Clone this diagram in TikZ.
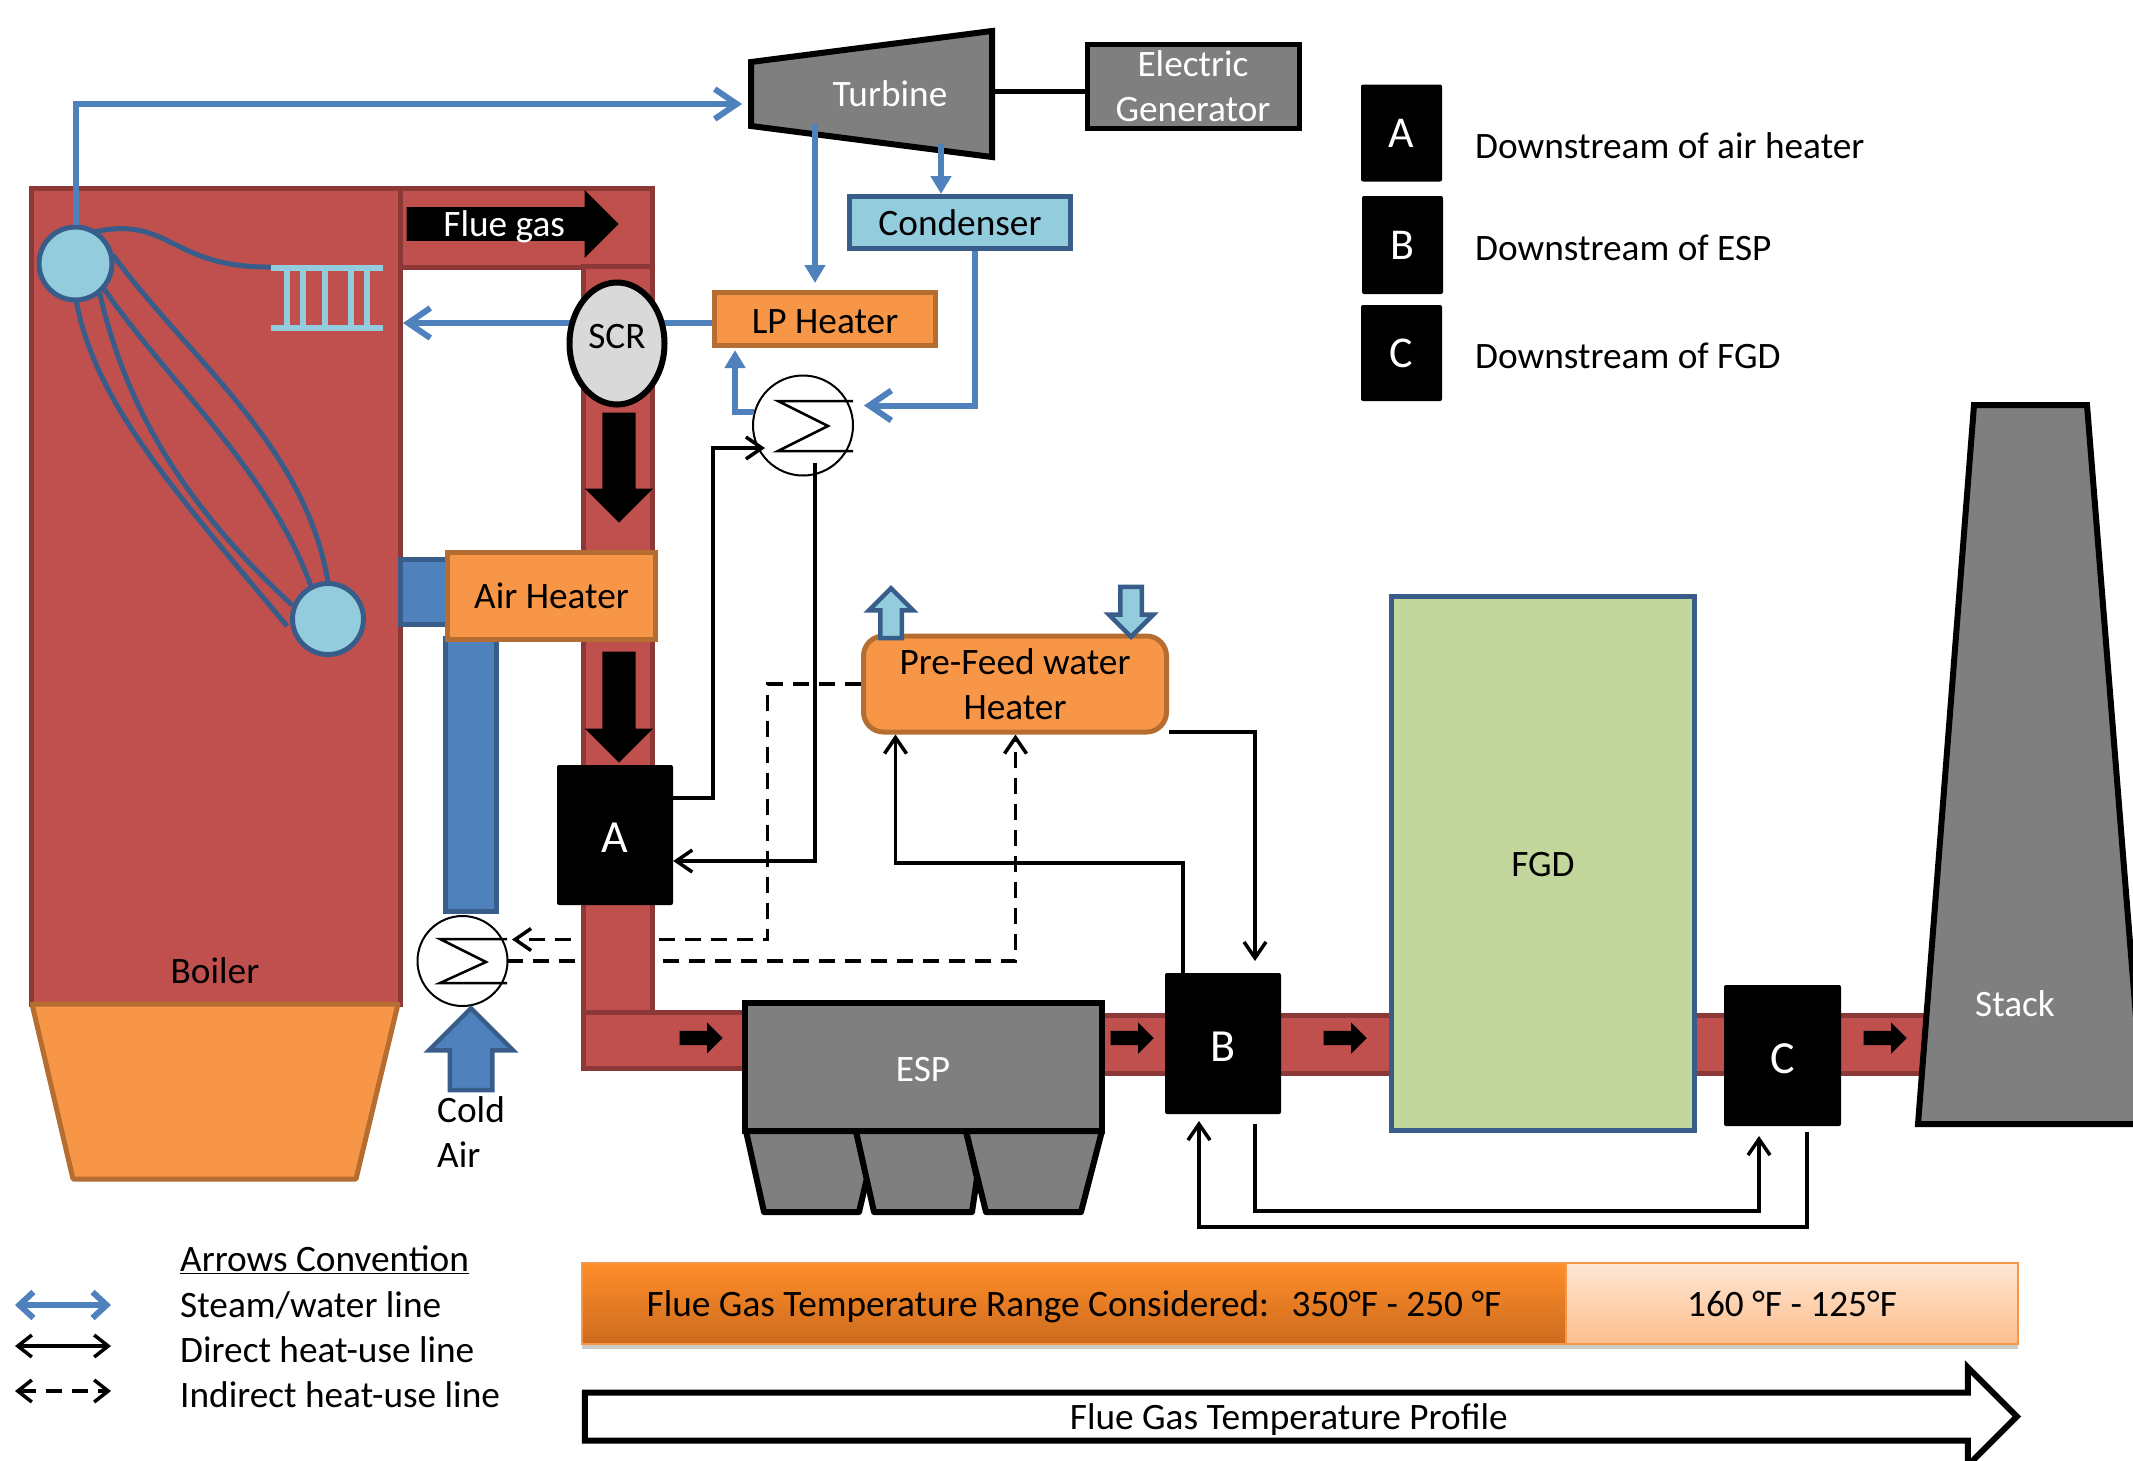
\documentclass[tikz,border=0pt]{standalone}
\usepackage{fontspec}
\setmainfont{Carlito}
\usepackage{xcolor}
\usepackage{tikz}
\usetikzlibrary{positioning,arrows.meta,shapes.arrows,shapes.geometric,shadows,backgrounds}
\definecolor{ductred}{HTML}{C0504D}
\definecolor{ductedge}{HTML}{8C3836}
\definecolor{heatorange}{HTML}{F79646}
\definecolor{heatedge}{HTML}{B66D31}
\definecolor{waterblue}{HTML}{93CDDD}
\definecolor{pipeblue}{HTML}{4F81BD}
\definecolor{pipeedge}{HTML}{385D8A}
\definecolor{plantgrey}{HTML}{7F7F7F}
\definecolor{fgdgreen}{HTML}{C3D69B}
\definecolor{hottop}{HTML}{FF8E2A}
\definecolor{hotbottom}{HTML}{CC6B1E}
\definecolor{coldtop}{HTML}{FEE6D3}
\definecolor{coldbottom}{HTML}{FDBE8D}
\begin{document}
\begin{tikzpicture}[
    x=1pt, y=-1pt,
    font=\fontsize{37.3}{45}\selectfont,
    ductbox/.style={draw=ductedge, line width=5pt, fill=ductred, minimum width=#1},
    heatbox/.style={draw=heatedge, line width=5pt, fill=heatorange, align=center, inner sep=0pt},
    waterbox/.style={draw=pipeedge, line width=5pt, fill=waterblue, inner sep=0pt},
    airbox/.style={draw=pipeedge, line width=5pt, fill=pipeblue, inner sep=0pt},
    greybox/.style={draw=black, line width=6pt, fill=plantgrey, text=white, align=center, inner sep=0pt},
    blockbox/.style={fill=black, text=white, rounded corners=2pt, inner sep=0pt, text height=35pt, text depth=0pt, font=\fontsize{46}{50}\selectfont},
    keybox/.style={blockbox, minimum width=81pt, text height=29pt, font=\fontsize{44}{50}\selectfont},
    keylabel/.style={anchor=west, inner sep=0pt},
    hxcircle/.style={circle, draw=black, line width=2pt, fill=white, inner sep=0pt},
    hxcoil/.style={draw=black, line width=2.5pt},
    tube/.style={draw=pipeedge, line width=5pt},
    rack/.style={draw=waterblue, line width=6pt},
    flowarrow/.style={single arrow, fill=black, anchor=tip, inner xsep=0pt, single arrow head indent=0pt},
    waterarrow/.style={single arrow, draw=pipeedge, line width=4.5pt, fill=waterblue, anchor=tip, inner xsep=0pt, single arrow head indent=0pt},
    steamline/.style={draw=pipeblue, line width=6pt, -{Straight Barb[length=22pt,width=30pt]}},
    steamfeed/.style={draw=pipeblue, line width=6pt, -{Triangle[length=18pt,width=20pt]}},
    directline/.style={draw=black, line width=3.5pt, -{Straight Barb[length=16pt,width=22pt]}},
    indirectline/.style={draw=black, line width=3.5pt, dash pattern=on 16pt off 10pt, -{Straight Barb[length=16pt,width=22pt]}}
  ]
    \useasboundingbox (0,0) rectangle (2133,1460);

    \node[ductbox=369pt, minimum height=816pt] (boiler) at (215.5,596) {};
    \node[ductbox=252pt, minimum height=79pt] (topduct) at (526,227.5) {};
    \node[ductbox=69pt, minimum height=747pt] (riser) at (617.5,639.5) {};
    \node[ductbox=161pt, minimum height=56pt] (lowduct) at (663.5,1040) {};
    \node[ductbox=293pt, minimum height=58pt] (espduct) at (1246.5,1044) {};
    \node[ductbox=237pt, minimum height=58pt] (stackduct) at (1811.5,1044) {};

    \draw[draw=heatedge, line width=5pt, fill=heatorange, line join=round] (32,1004) -- (398,1004) -- (356,1179) -- (73,1179) -- cycle;
    \node (boilerlabel) at (215,971) {Boiler};

    \draw[tube] (113,255) .. controls (190,360) and (305,445) .. (328,582);
    \draw[tube] (102,286) .. controls (170,385) and (270,470) .. (312,589);
    \draw[tube] (99,290) .. controls (130,430) and (206,525) .. (292,605);
    \draw[tube] (76,300) .. controls (95,400) and (165,480) .. (287,626);
    \draw[tube] (94,232) .. controls (170,215) and (170,268) .. (271,267);
    \draw[rack] (271,267.5) -- (383,267.5);
    \draw[rack] (271,327.5) -- (383,327.5);
    \draw[rack] (287,267) -- (287,328);
    \draw[rack] (303,267) -- (303,328);
    \draw[rack] (325,267) -- (325,328);
    \draw[rack] (351,267) -- (351,328);
    \draw[rack] (367,267) -- (367,328);

    \node[circle, draw=pipeedge, line width=5pt, fill=waterblue, minimum size=73pt, inner sep=0pt] (topdrum) at (75.5,263.5) {};
    \node[circle, draw=pipeedge, line width=5pt, fill=waterblue, minimum size=71pt, inner sep=0pt] (lowdrum) at (328,619) {};

    \draw[draw=black, line width=6pt, fill=plantgrey, line join=miter] (751,62) -- (992,31) -- (992,157) -- (751,126) -- cycle;
    \node[text=white] (turbine) at (890,94) {Turbine};
    \coordinate (turbinein) at (742,104);
    \coordinate (turbinelp) at (815,124);
    \coordinate (turbinecond) at (941,144);
    \coordinate (turbineshaft) at (992,91);
    \node[greybox, line width=5pt, minimum width=212pt, minimum height=84pt] (generator) at (1193,86) {Electric\\Generator};
    \draw[black, line width=5pt] (turbineshaft) -- (generator.west |- turbineshaft);

    \draw[steamline] (topdrum.north) |- (turbinein);

    \node[waterbox, minimum width=221pt, minimum height=52pt] (condenser) at (960,222.5) {Condenser};
    \draw[steamfeed] (turbinecond) -- (condenser.north -| turbinecond);

    \node[heatbox, minimum width=221.5pt, minimum height=53pt, text height=28pt, text depth=0pt] (lpheater) at (825,319) {LP Heater};
    \draw[steamfeed, shorten >=7pt] (turbinelp) -- (lpheater.north -| turbinelp);
    \coordinate (boilerwall) at (403,323);
    \draw[steamline] (lpheater.west |- boilerwall) -- (boilerwall);

    \node[ellipse, draw=black, line width=6pt, fill=black!15, inner sep=0pt, minimum width=95pt, minimum height=122pt] (scr) at (617,343.5) {};
    \node (scrlabel) at (617,337) {SCR};

    \node[flowarrow, inner ysep=0pt, text height=24pt, text depth=9.5pt, minimum height=212pt, minimum width=68pt, single arrow head extend=17.25pt, text=white] (fluegas) at (619,224) {\raisebox{-5.5pt}{Flue gas}};
    \node[flowarrow, rotate=-90, inner ysep=16.5pt, minimum height=110pt, minimum width=68pt, single arrow head extend=17.5pt] (scrarrow) at (619,523) {};
    \node[flowarrow, rotate=-90, inner ysep=16.5pt, minimum height=111pt, minimum width=68pt, single arrow head extend=17.5pt] (ahearrow) at (619,763) {};

    \node[airbox, minimum width=49pt, minimum height=65pt] (airstub) at (425,591.5) {};
    \node[airbox, minimum width=51pt, minimum height=273pt] (aircolumn) at (471,774.5) {};
    \node[heatbox, minimum width=208pt, minimum height=87pt] (airheater) at (551.5,595.5) {Air Heater};

    \node[hxcircle, minimum size=100pt] (hxup) at (803,425.5) {};
    \draw[hxcoil] (853,401) -- (778,401) -- (828,426) -- (778,451) -- (853,451);
    \node[hxcircle, minimum size=90pt] (hxlow) at (462.5,961) {};
    \draw[hxcoil] (507,939) -- (440,939) -- (486,962) -- (440,983) -- (507,983);

    \node[single arrow, draw=pipeedge, line width=4.5pt, fill=pipeblue, anchor=tip, inner xsep=0pt, inner ysep=19pt, single arrow head indent=0pt, rotate=90, minimum height=82pt, minimum width=80pt, single arrow head extend=21pt] (coldarrow) at (471,1005) {};
    \node[anchor=west, inner sep=0pt, align=left] (coldair) at (437,1132) {Cold\\Air};

    \node[blockbox, minimum width=116pt, minimum height=140pt] (blockA) at (615,835) {A};
    \node[blockbox, minimum width=116pt, minimum height=141pt] (blockB) at (1223,1043.5) {B};
    \node[blockbox, minimum width=117pt, minimum height=141pt] (blockC) at (1782.5,1055.5) {C};

    \node[greybox, text height=28pt, text depth=0pt, minimum width=357pt, minimum height=128pt] (esp) at (923,1067) {ESP};
    \draw[draw=black, line width=6pt, fill=plantgrey, line join=round] (746,1131) -- (764,1212) -- (859,1212) -- (867,1178) -- (856,1131) -- cycle;
    \draw[draw=black, line width=6pt, fill=plantgrey, line join=round] (856,1131) -- (874,1212) -- (972,1212) -- (977,1178) -- (966,1131) -- cycle;
    \draw[draw=black, line width=6pt, fill=plantgrey, line join=round] (966,1131) -- (986,1212) -- (1081,1212) -- (1102,1131) -- cycle;

    \node[draw=pipeedge, line width=5pt, fill=fgdgreen, text height=26pt, text depth=0pt, minimum width=303pt, minimum height=534pt, inner sep=0pt] (fgd) at (1543,863.5) {FGD};
    \draw[draw=black, line width=6pt, fill=plantgrey, line join=miter] (1974,405) -- (2087,405) -- (2137,1030) -- (2137,1124) -- (1918,1124) -- cycle;
    \node[text=white] (stack) at (2015,1004) {Stack};

    \node[flowarrow, inner ysep=7pt, minimum height=43pt, minimum width=31pt, single arrow head extend=8.5pt] (flowa) at (723,1038) {};
    \node[flowarrow, inner ysep=7pt, minimum height=43pt, minimum width=31pt, single arrow head extend=8.5pt] (flowb) at (1154,1038) {};
    \node[flowarrow, inner ysep=7pt, minimum height=43pt, minimum width=31pt, single arrow head extend=8.5pt] (flowc) at (1367,1038) {};
    \node[flowarrow, inner ysep=7pt, minimum height=43pt, minimum width=31pt, single arrow head extend=8.5pt] (flowd) at (1907,1038) {};

    \node[heatbox, rounded corners=20pt, minimum width=303pt, minimum height=96pt] (prefeed) at (1015,684) {Pre-Feed water\\Heater};
    \node[waterarrow, rotate=90, inner ysep=8.5pt, minimum height=50pt, minimum width=40pt, single arrow head extend=11.5pt] (feedout) at (891,585) {};
    \node[waterarrow, rotate=-90, inner ysep=8.5pt, minimum height=50pt, minimum width=40pt, single arrow head extend=11.5pt] (feedin) at (1131,640) {};

    \coordinate (condensercorner) at (974.5,405.5);
    \coordinate (hxupright) at (864,405.5);
    \coordinate (hxupfeed) at (754,412);
    \draw[steamline] (condenser.south -| condensercorner) -- (condensercorner) -- (hxupright);
    \draw[steamfeed, shorten >=2pt] (hxupfeed) -| ([xshift=-90pt]lpheater.south);

    \coordinate (hxupin) at (765,448);
    \coordinate (hxupdrop) at (815,463);
    \draw[directline] ([yshift=37pt]blockA.east) -- (713,798) |- (hxupin);
    \draw[directline] (hxupdrop) |- ([yshift=-26pt]blockA.east);
    \draw[directline] ([xshift=-40pt]blockB.north) |- (895.5,863) -- ([xshift=-119.5pt]prefeed.south);
    \draw[directline] ([yshift=-48pt]prefeed.east) -| (1255,961);
    \coordinate (blockBout) at (1255,1124);
    \coordinate (blockCin) at (1759,1136);
    \coordinate (blockCout) at (1807,1132);
    \coordinate (blockBin) at (1199,1121);
    \draw[directline] (blockBout) -- (1255,1211) -| (blockCin);
    \draw[directline] (blockCout) -- (1807,1227) -| (blockBin);

    \begin{scope}[on background layer]
      \draw[indirectline] (prefeed.west) -| (767.5,939.5) -- (512,939.5);
      \draw[indirectline] (507,961) -| ([xshift=0.5pt]prefeed.south);
    \end{scope}

    \node[keybox, minimum height=97pt] (keyA) at (1401.5,133) {A};
    \node[keybox, minimum height=98pt] (keyB) at (1402.5,245) {B};
    \node[keybox, minimum height=96pt] (keyC) at (1401.5,353) {C};
    \node[keylabel] (keyAtext) at (1475,146) {Downstream of air heater};
    \node[keylabel] (keyBtext) at (1475,248) {Downstream of ESP};
    \node[keylabel] (keyCtext) at (1475,356) {Downstream of FGD};

    \node[keylabel] (arrowsTitle) at (180,1260) {\underline{Arrows Convention}};
    \node[keylabel] (steamText) at (180,1305) {Steam/water line};
    \node[keylabel] (directText) at (180,1350) {Direct heat-use line};
    \node[keylabel] (indirectText) at (180,1395) {Indirect heat-use line};
    \coordinate (steamkeyl) at (15,1305);
    \coordinate (steamkeyr) at (111,1305);
    \coordinate (directkeyl) at (15,1346);
    \coordinate (directkeyr) at (111,1346);
    \coordinate (indirectkeyl) at (15,1391);
    \coordinate (indirectkeyr) at (111,1391);
    \draw[draw=pipeblue, line width=6pt, {Straight Barb[length=14pt,width=26pt]}-{Straight Barb[length=14pt,width=26pt]}] (steamkeyl) -- (steamkeyr);
    \draw[draw=black, line width=3.5pt, {Straight Barb[length=14pt,width=22pt]}-{Straight Barb[length=14pt,width=22pt]}] (directkeyl) -- (directkeyr);
    \draw[draw=black, line width=3.5pt, dash pattern=on 16pt off 10pt, {Straight Barb[length=14pt,width=22pt]}-{Straight Barb[length=14pt,width=22pt]}] (indirectkeyl) -- (indirectkeyr);

    \node[draw=heatorange, line width=2pt, top color=hottop, bottom color=hotbottom, minimum width=984pt, minimum height=81pt, inner sep=0pt, drop shadow={shadow xshift=0pt, shadow yshift=-5pt, fill=black, opacity=.2}] (rangehot) at (1074,1303.5) {\raisebox{-12.5pt}[0pt][0pt]{Flue Gas Temperature Range Considered:\hspace{0.6em}350°F - 250 °F}};
    \node[draw=heatorange, line width=2pt, top color=coldtop, bottom color=coldbottom, minimum width=452pt, minimum height=81pt, inner sep=0pt, drop shadow={shadow xshift=0pt, shadow yshift=-5pt, fill=black, opacity=.2}] (rangecold) at (1792,1303.5) {160 °F - 125°F};

    \node[single arrow, draw=black, line width=6pt, fill=white, anchor=tip, inner xsep=0pt, inner ysep=0pt, text height=28pt, text depth=14pt, single arrow head indent=0pt, minimum height=1432pt, minimum width=92pt, single arrow head extend=25pt] (profile) at (2021,1416.5) {\raisebox{-5.5pt}{Flue Gas Temperature Profile}};
\end{tikzpicture}
\end{document}
